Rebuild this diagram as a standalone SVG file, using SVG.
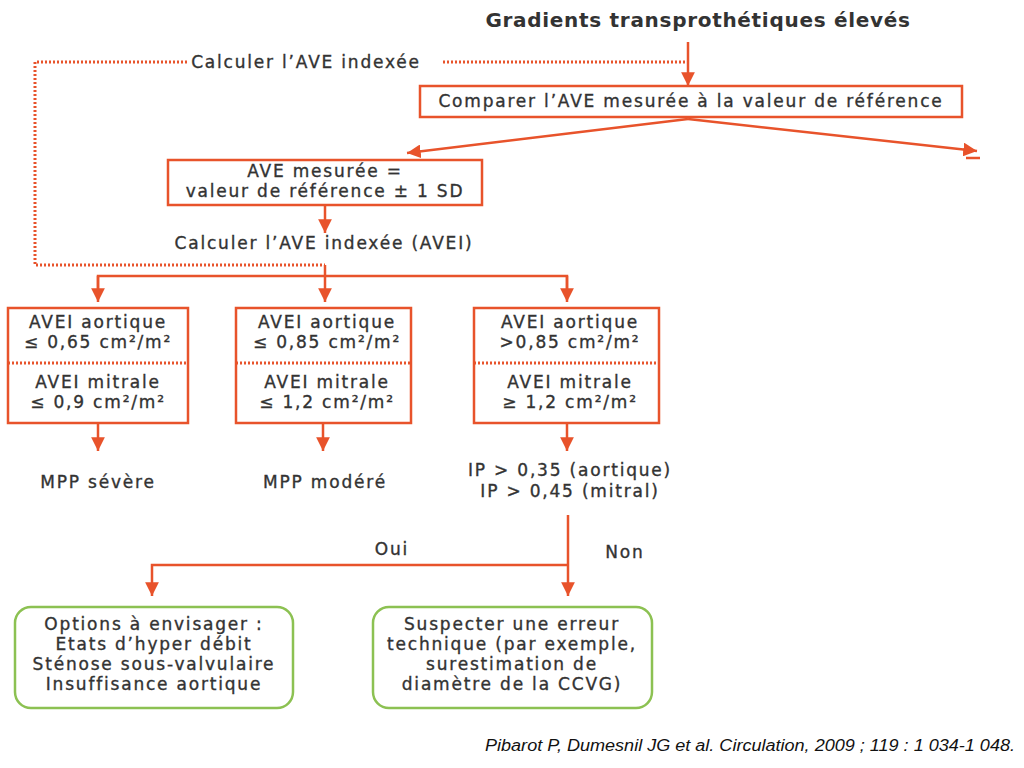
<svg xmlns="http://www.w3.org/2000/svg" width="1024" height="768" viewBox="0 0 1024 768">
<defs>
<marker id="ah" viewBox="0 0 10 10" refX="10" refY="5" markerWidth="5.5" markerHeight="5.5" orient="auto" markerUnits="strokeWidth">
<path d="M0,0 L10,5 L0,10 z" fill="#E8532B"/>
</marker>
</defs>
<style>
.t{font-family:"DejaVu Sans","Liberation Sans",sans-serif;fill:#333;text-anchor:middle}
.s{font-size:17px;letter-spacing:1.8px;stroke:#333;stroke-width:0.35px}
.ln{stroke:#E8532B;stroke-width:2.5;fill:none}
.ar{stroke:#E8532B;stroke-width:2.5;fill:none;marker-end:url(#ah)}
.dt{stroke:#E8532B;stroke-width:3;fill:none;stroke-dasharray:2 2}
.ob{stroke:#E8532B;stroke-width:2.5;fill:#fff}
.gb{stroke:#8CC152;stroke-width:2.5;fill:#fff}
</style>
<rect width="1024" height="768" fill="#fff"/>
<g id="connectors">
<line class="ar" x1="688" y1="42" x2="688" y2="86"/>
<polyline class="dt" points="187,62 35,62 35,265 325,265"/>
<line class="dt" x1="443" y1="62" x2="688" y2="62"/>
<line class="ar" x1="688" y1="119" x2="407" y2="153"/>
<line class="ar" x1="688" y1="119" x2="977" y2="151"/>
<line class="ln" x1="966" y1="158" x2="980" y2="158"/>
<line class="ar" x1="325" y1="205" x2="325" y2="233"/>
<line class="ar" x1="325" y1="265" x2="325" y2="302"/>
<polyline class="ln" points="98,290 98,276 567,276 567,290"/>
<line class="ar" x1="98" y1="276" x2="98" y2="302"/>
<line class="ar" x1="567" y1="276" x2="567" y2="302"/>
<line class="ar" x1="98" y1="423" x2="98" y2="451"/>
<line class="ar" x1="323" y1="423" x2="323" y2="451"/>
<line class="ar" x1="567" y1="423" x2="567" y2="451"/>
<line class="ar" x1="568" y1="515" x2="568" y2="596"/>
<polyline class="ar" points="568,565 152,565 152,596"/>
</g>
<g id="title"><text class="t" x="698" y="27" font-size="20" font-weight="bold" letter-spacing="0.7" fill="#222">Gradients transprothétiques élevés</text></g>
<g id="calc1"><text class="t s" x="306" y="68">Calculer l’AVE indexée</text></g>
<g id="compare">
<rect class="ob" x="420" y="86" width="542" height="31"/>
<text class="t s" x="691" y="107">Comparer l’AVE mesurée à la valeur de référence</text>
</g>
<g id="mesuree">
<rect class="ob" x="168" y="160" width="314" height="45"/>
<text class="t s" x="325" y="177">AVE mesurée =</text>
<text class="t s" x="325" y="197">valeur de  référence ± 1 SD</text>
</g>
<g id="calc2"><text class="t s" x="324" y="249">Calculer l’AVE indexée (AVEI)</text></g>
<g id="box1">
<rect class="ob" x="8" y="308" width="180" height="115"/>
<line class="dt" x1="8" y1="363" x2="188" y2="363" stroke-width="2.5"/>
<text class="t s" x="98" y="328">AVEI  aortique</text>
<text class="t s" x="98" y="348">≤ 0,65 cm²/m²</text>
<text class="t s" x="98" y="388">AVEI mitrale</text>
<text class="t s" x="98" y="408">≤ 0,9 cm²/m²</text>
</g>
<g id="box2">
<rect class="ob" x="236" y="308" width="175" height="115"/>
<line class="dt" x1="236" y1="363" x2="411" y2="363" stroke-width="2.5"/>
<text class="t s" x="327" y="328">AVEI  aortique</text>
<text class="t s" x="327" y="348">≤  0,85 cm²/m²</text>
<text class="t s" x="327" y="388">AVEI mitrale</text>
<text class="t s" x="327" y="408">≤ 1,2 cm²/m²</text>
</g>
<g id="box3">
<rect class="ob" x="474" y="308" width="185" height="115"/>
<line class="dt" x1="474" y1="363" x2="659" y2="363" stroke-width="2.5"/>
<text class="t s" x="570" y="328">AVEI  aortique</text>
<text class="t s" x="570" y="348">&gt;0,85 cm²/m²</text>
<text class="t s" x="570" y="388">AVEI mitrale</text>
<text class="t s" x="570" y="408">≥  1,2 cm²/m²</text>
</g>
<g id="mpp1"><text class="t s" x="98" y="488">MPP sévère</text></g>
<g id="mpp2"><text class="t s" x="325" y="488">MPP modéré</text></g>
<g id="ip">
<text class="t s" x="570" y="476">IP &gt; 0,35 (aortique)</text>
<text class="t s" x="570" y="497">IP &gt; 0,45 (mitral)</text>
</g>
<g id="labels">
<text class="t s" x="392" y="555">Oui</text>
<text class="t s" x="625" y="558">Non</text>
</g>
<g id="options">
<rect class="gb" x="15" y="607" width="278" height="101" rx="16"/>
<text class="t s" x="154" y="630">Options à envisager :</text>
<text class="t s" x="154" y="650">Etats d’hyper débit</text>
<text class="t s" x="154" y="670">Sténose sous-valvulaire</text>
<text class="t s" x="154" y="690">Insuffisance aortique</text>
</g>
<g id="suspect">
<rect class="gb" x="373" y="607" width="279" height="101" rx="16"/>
<text class="t s" x="512" y="630">Suspecter une erreur</text>
<text class="t s" x="512" y="650">technique (par exemple,</text>
<text class="t s" x="512" y="670">surestimation de</text>
<text class="t s" x="512" y="690">diamètre de la CCVG)</text>
</g>
<g id="citation"><text x="1015" y="751" font-family="'Liberation Sans',sans-serif" font-style="italic" font-size="16" fill="#111" text-anchor="end" textLength="530" lengthAdjust="spacingAndGlyphs">Pibarot P, Dumesnil JG et al. Circulation, 2009 ; 119 : 1 034-1 048.</text></g>
</svg>
